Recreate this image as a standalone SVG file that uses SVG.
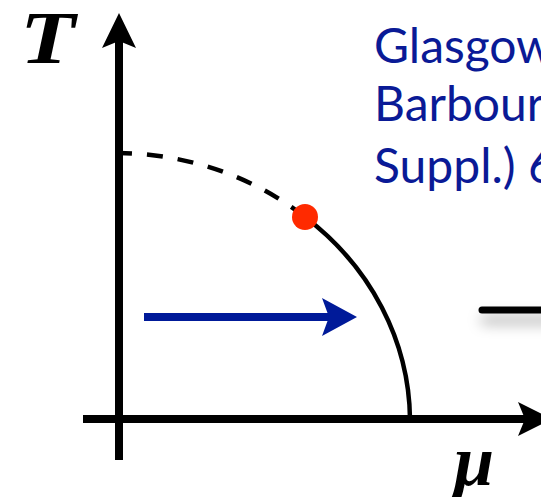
<svg xmlns="http://www.w3.org/2000/svg" width="541" height="497" viewBox="0 0 541 497">
<style>
.axis{stroke:#000;stroke-width:8;fill:none}
.curve{stroke:#000;stroke-width:4.5;fill:none}
.ref{font-family:Lato,"Open Sans",sans-serif;font-size:48px;fill:#0a1a96}
.math{font-family:"Liberation Serif","DejaVu Serif",serif;font-style:italic;font-weight:bold;fill:#000}
</style>
<defs>
<filter id="sh" filterUnits="userSpaceOnUse" x="420" y="270" width="200" height="120">
<feDropShadow dx="2" dy="10" stdDeviation="7" flood-color="#000" flood-opacity="0.35"/>
</filter>
</defs>
<g id="connectors">
<line class="axis" x1="119" y1="460" x2="119" y2="40"/>
<polygon points="119,13 136,48 119,41 102,48" fill="#000"/>
<line class="axis" x1="83" y1="419" x2="525" y2="419"/>
<polygon points="552,419 518,402 525,419 518,436" fill="#000"/>
<path class="curve" d="M119,153 A291,266 0 0,1 305,217" stroke-dasharray="16 15" stroke-dashoffset="3"/>
<path class="curve" d="M305,217 A291,266 0 0,1 410,419"/>
<line x1="144" y1="317" x2="330" y2="317" stroke="#001a99" stroke-width="8"/>
<polygon points="357,317 322,298 329,317 322,336" fill="#001a99"/>
<line x1="482" y1="310" x2="580" y2="310" stroke="#000" stroke-width="7" stroke-linecap="round" filter="url(#sh)"/>
</g>
<g id="critical-point">
<circle cx="305" cy="217" r="13" fill="#ff2a00"/>
</g>
<g id="label-T">
<text class="math" transform="translate(20,63) scale(1.22,1)" font-size="74">T</text>
</g>
<g id="label-mu">
<text class="math" x="454" y="485" font-size="72">μ</text>
</g>
<g id="reference">
<text class="ref" x="374" y="63">Glasgow</text>
<text class="ref" x="374" y="121">Barbour</text>
<text class="ref" x="374" y="183">Suppl.) 6</text>
</g>
</svg>
